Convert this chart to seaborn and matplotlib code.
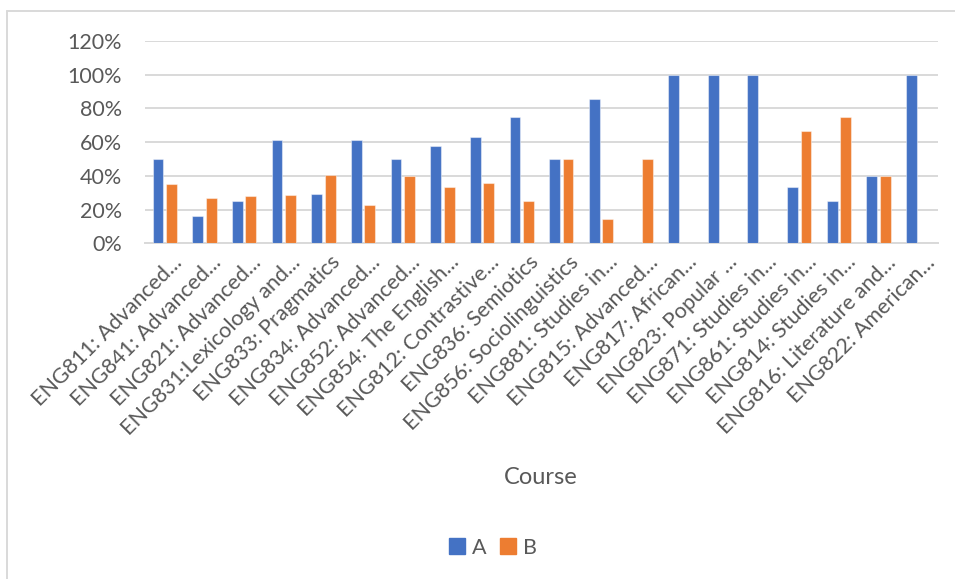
import matplotlib
matplotlib.use("Agg")
import matplotlib.pyplot as plt
import matplotlib.transforms as mtransforms
from matplotlib.lines import Line2D
from matplotlib.ticker import PercentFormatter, MultipleLocator
import pandas as pd
import seaborn as sns

courses = [
    "ENG811: Advanced...", "ENG841: Advanced...", "ENG821: Advanced...",
    "ENG831:Lexicology and...", "ENG833: Pragmatics", "ENG834: Advanced...",
    "ENG852: Advanced...", "ENG854: The English...", "ENG812: Contrastive...",
    "ENG836: Semiotics", "ENG856: Sociolinguistics", "ENG881: Studies in...",
    "ENG815: Advanced...", "ENG817: African...", "ENG823: Popular ...",
    "ENG871: Studies in...", "ENG861: Studies in...", "ENG814: Studies in...",
    "ENG816: Literature and...", "ENG822: American...",
]
share_a = [0.50, 0.16, 0.25, 0.61, 0.29, 0.61, 0.50, 0.58, 0.63, 0.75,
           0.50, 0.857, 0.0, 1.0, 1.0, 1.0, 0.333, 0.25, 0.40, 1.0]
share_b = [0.353, 0.267, 0.28, 0.286, 0.405, 0.23, 0.40, 0.333, 0.36, 0.25,
           0.50, 0.143, 0.50, 0.0, 0.0, 0.0, 0.667, 0.75, 0.40, 0.0]
series = ["A", "B"]
palette = {"A": "#4472C4", "B": "#ED7D31"}

df = pd.DataFrame({
    "Course": courses * 2,
    "Share": share_a + share_b,
    "Group": ["A"] * len(courses) + ["B"] * len(courses),
})

sns.set_theme(style="white")
plt.rcParams["font.family"] = ["Lato", "DejaVu Sans"]
text_color = "#595959"
grid_color = "#D9D9D9"

fig = plt.figure(figsize=(9.55, 5.79), dpi=100)
ax = fig.add_axes([145 / 955, 1 - 243.3 / 579, (938 - 145) / 955, (243.3 - 41) / 579])

sns.barplot(data=df, x="Course", y="Share", hue="Group", hue_order=series,
            palette=palette, width=0.68, gap=0.2, saturation=1,
            edgecolor=(1, 1, 1, 0.45), linewidth=0.8, ax=ax, legend=False,
            zorder=3)

ax.set_ylim(0, 1.2)
ax.set_xlim(-0.5, len(courses) - 0.5)
ax.yaxis.set_major_locator(MultipleLocator(0.2))
ax.yaxis.set_major_formatter(PercentFormatter(1.0, decimals=0))
ax.grid(axis="y", color=grid_color, linewidth=1.4, zorder=0)
ax.set_axisbelow(True)
for side in ["top", "right", "left"]:
    ax.spines[side].set_visible(False)
ax.spines["bottom"].set_color(grid_color)
ax.spines["bottom"].set_linewidth(1.4)

ax.tick_params(axis="both", length=0, colors=text_color, labelsize=15.5)
ax.tick_params(axis="y", pad=16.5)
ax.set_ylabel("")
ax.set_xlabel("")

offset = mtransforms.ScaledTranslation(14 / 100, -11 / 100, fig.dpi_scale_trans)
for lbl in ax.get_xticklabels():
    lbl.set_rotation(45)
    lbl.set_ha("right")
    lbl.set_va("center")
    lbl.set_rotation_mode("anchor")
    lbl.set_transform(lbl.get_transform() + offset)

fig.text(541 / 955, 1 - 478 / 579, "Course", ha="center", va="center",
         fontsize=17, color=text_color)

handles = [Line2D([], [], marker="s", linestyle="none", markersize=11,
                  markerfacecolor=palette[s], markeredgecolor=palette[s])
           for s in series]
fig.legend(handles, series, loc="center", bbox_to_anchor=(492 / 955, 1 - 548 / 579),
           ncol=2, frameon=False, fontsize=15.5, labelcolor=text_color,
           handletextpad=0.2, columnspacing=0.5, handlelength=1.0)

# chart frame edges
fig.add_artist(Line2D([7 / 955, 7 / 955], [0, 1 - 11 / 579], color=grid_color,
                      linewidth=1.4, transform=fig.transFigure))
fig.add_artist(Line2D([7 / 955, 1], [1 - 11 / 579, 1 - 11 / 579], color=grid_color,
                      linewidth=1.4, transform=fig.transFigure))

fig.savefig("out.png", dpi=100, facecolor="white")
